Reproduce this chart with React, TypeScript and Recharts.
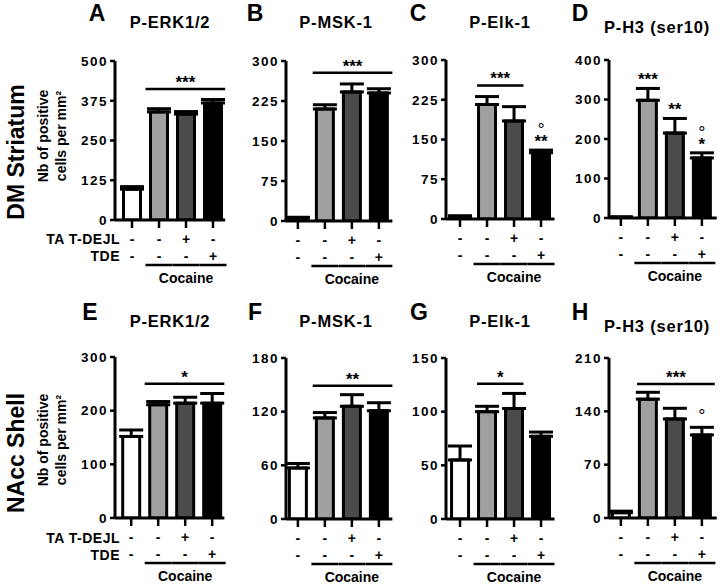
import React from 'react';
import { BarChart, Bar, XAxis, YAxis, Cell, ErrorBar, ReferenceLine, ReferenceDot } from 'recharts';

const FONT = '"Liberation Sans", Arial, sans-serif';

const groups = ['Saline', 'Cocaine', 'Cocaine + TAT-DEJL', 'Cocaine + TDE'];
const tatDejl = ['-', '-', '+', '-'];
const tde = ['-', '-', '-', '+'];
const barColors = ['#ffffff', '#a0a0a0', '#4b4b4b', '#000000'];

// DM Striatum
const erkStriatum = [97, 340, 333, 368];
const erkStriatumSem = [8, 10, 8, 11];
const mskStriatum = [5, 210, 242, 240];
const mskStriatumSem = [2, 8, 15, 8];
const elkStriatum = [5, 216, 185, 125];
const elkStriatumSem = [1, 15, 27, 5];
const h3Striatum = [2, 298, 215, 152];
const h3StriatumSem = [1, 30, 37, 13];

// NAcc Shell
const erkShell = [152, 211, 214, 214];
const erkShellSem = [12, 6, 11, 18];
const mskShell = [57, 113, 126, 121];
const mskShellSem = [5, 6, 13, 9];
const elkShell = [55, 100, 103, 77];
const elkShellSem = [13, 5, 14, 4];
const h3Shell = [7, 156, 130, 109];
const h3ShellSem = [2, 9, 14, 10];

// per-bar significance marks
const elkStriatumStars = ['', '', '', '**'];
const elkStriatumCircle = ['', '', '', '°'];
const h3StriatumStars = ['', '***', '**', '*'];
const h3StriatumCircle = ['', '', '', '°'];
const h3ShellCircle = ['', '', '', '°'];
const none = ['', '', '', ''];

const STEP = 27;
const YW = 45;
const MT = 12;
const XH = 70;

const panels = [
  { letter: 'A', title: 'P-ERK1/2', values: erkStriatum, sem: erkStriatumSem, yTicks: [0, 125, 250, 375, 500], axisX: 115, top: 61, bottom: 220, xDomain: [-0.63, 3.45], sig: { from: 0.5, to: 3.45, y: 412, text: '***' }, stars: none, circles: none, letterX: 97, titleX: 170, titleDy: 0 },
  { letter: 'B', title: 'P-MSK-1', values: mskStriatum, sem: mskStriatumSem, yTicks: [0, 75, 150, 225, 300], axisX: 286, top: 61, bottom: 221, xDomain: [-0.44, 3.5], sig: { from: 0.55, to: 3.5, y: 278, text: '***' }, stars: none, circles: none, letterX: 255, titleX: 336, titleDy: 0 },
  { letter: 'C', title: 'P-Elk-1', values: elkStriatum, sem: elkStriatumSem, yTicks: [0, 75, 150, 225, 300], axisX: 446, top: 60, bottom: 219, xDomain: [-0.52, 3.5], sig: { from: 0.63, to: 2.35, y: 252, text: '***' }, stars: elkStriatumStars, circles: elkStriatumCircle, letterX: 418, titleX: 500, titleDy: 0 },
  { letter: 'D', title: 'P-H3 (ser10)', values: h3Striatum, sem: h3StriatumSem, yTicks: [0, 100, 200, 300, 400], axisX: 609, top: 60, bottom: 218, xDomain: [-0.44, 3.55], sig: null, stars: h3StriatumStars, circles: h3StriatumCircle, letterX: 580, titleX: 657, titleDy: 5 },
  { letter: 'E', title: 'P-ERK1/2', values: erkShell, sem: erkShellSem, yTicks: [0, 100, 200, 300], axisX: 115, top: 357, bottom: 518, xDomain: [-0.6, 3.45], sig: { from: 0.5, to: 3.45, y: 250, text: '*' }, stars: none, circles: none, letterX: 90, titleX: 170, titleDy: 0 },
  { letter: 'F', title: 'P-MSK-1', values: mskShell, sem: mskShellSem, yTicks: [0, 60, 120, 180], axisX: 286, top: 358, bottom: 519, xDomain: [-0.44, 3.5], sig: { from: 0.55, to: 3.5, y: 149, text: '**' }, stars: none, circles: none, letterX: 255, titleX: 336, titleDy: 0 },
  { letter: 'G', title: 'P-Elk-1', values: elkShell, sem: elkShellSem, yTicks: [0, 50, 100, 150], axisX: 446, top: 358, bottom: 519, xDomain: [-0.52, 3.5], sig: { from: 0.63, to: 2.35, y: 126, text: '*' }, stars: none, circles: none, letterX: 419, titleX: 500, titleDy: 0 },
  { letter: 'H', title: 'P-H3 (ser10)', values: h3Shell, sem: h3ShellSem, yTicks: [0, 70, 140, 210], axisX: 609, top: 358, bottom: 518, xDomain: [-0.44, 3.55], sig: { from: 0.6, to: 3.48, y: 176, text: '***' }, stars: none, circles: h3ShellCircle, letterX: 580, titleX: 657, titleDy: 5 },
];

const TreatmentTick = (props: any) => {
  const { x, y, payload } = props;
  const i = Math.round(payload.value);
  return (
    <g fontFamily={FONT} fontWeight={700} fill="#000">
      <text x={x} y={y + 11} textAnchor="middle" dominantBaseline="central" fontSize={14}>{tatDejl[i]}</text>
      <text x={x} y={y + 28} textAnchor="middle" dominantBaseline="central" fontSize={14}>{tde[i]}</text>
      {i >= 1 && (
        <line x1={x - STEP / 2} x2={x + STEP / 2} y1={y + 37} y2={y + 37} stroke="#000" strokeWidth={2.5} />
      )}
      {i === 2 && (
        <text x={x} y={y + 50} textAnchor="middle" dominantBaseline="central" fontSize={14}>Cocaine</text>
      )}
    </g>
  );
};

const Panel = ({ p }: { p: any }) => {
  const data = p.values.map((v: number, i: number) => ({ idx: i, group: groups[i], value: v, err: [0, p.sem[i]] }));
  const plotW = (p.xDomain[1] - p.xDomain[0]) * STEP;
  const plotH = p.bottom - p.top;
  const yMax = p.yTicks[p.yTicks.length - 1];
  return (
    <div style={{ position: 'absolute', left: p.axisX - YW, top: p.top - MT }}>
      <BarChart width={YW + plotW + 4} height={MT + plotH + XH} data={data} margin={{ top: MT, right: 4, left: 0, bottom: 0 }} style={{ overflow: 'visible' }}>
        <XAxis
          dataKey="idx"
          type="number"
          domain={p.xDomain}
          ticks={[0, 1, 2, 3]}
          interval={0}
          allowDataOverflow
          height={XH}
          tickSize={8}
          tickMargin={0}
          axisLine={{ stroke: '#000', strokeWidth: 3 }}
          tickLine={{ stroke: '#000', strokeWidth: 2.5 }}
          tick={<TreatmentTick />}
        />
        <YAxis
          type="number"
          domain={[0, yMax]}
          ticks={p.yTicks}
          interval={0}
          allowDataOverflow
          width={YW}
          tickSize={5}
          tickMargin={2}
          axisLine={{ stroke: '#000', strokeWidth: 3 }}
          tickLine={{ stroke: '#000', strokeWidth: 2.5 }}
          tick={{ fill: '#000', fontSize: 13.5, fontWeight: 700, fontFamily: FONT, letterSpacing: 1.5 }}
        />
        <Bar dataKey="value" barSize={17} stroke="#000" strokeWidth={3} isAnimationActive={false}>
          {data.map((d: any, i: number) => (
            <Cell key={`c-${i}`} fill={barColors[i]} />
          ))}
          <ErrorBar dataKey="err" width={12} stroke="#000" strokeWidth={3} isAnimationActive={false} />
        </Bar>
        {p.sig && (
          <ReferenceLine
            segment={[{ x: p.sig.from, y: p.sig.y }, { x: p.sig.to, y: p.sig.y }]}
            stroke="#000"
            strokeWidth={2.5}
            ifOverflow="visible"
            label={{ value: p.sig.text, position: 'top', offset: 1, fill: '#000', fontSize: 17, fontWeight: 700, fontFamily: FONT }}
          />
        )}
        {p.stars.map((s: string, i: number) =>
          s ? (
            <ReferenceDot key={`s-${i}`} x={i} y={p.values[i] + p.sem[i]} r={1} fill="none" stroke="none" ifOverflow="visible"
              label={{ value: s, position: 'top', offset: 2, fill: '#000', fontSize: 17, fontWeight: 700, fontFamily: FONT }} />
          ) : null
        )}
        {p.circles.map((s: string, i: number) =>
          s ? (
            <ReferenceDot key={`o-${i}`} x={i} y={p.values[i] + p.sem[i]} r={1} fill="none" stroke="none" ifOverflow="visible"
              label={{ value: s, position: 'top', offset: p.stars[i] ? 13 : 4, fill: '#000', fontSize: 18, fontWeight: 400, fontFamily: FONT }} />
          ) : null
        )}
      </BarChart>
    </div>
  );
};

const RotLabel = ({ x, y, size, children }: any) => (
  <text x={x} y={y} transform={`rotate(-90 ${x} ${y})`} textAnchor="middle" dominantBaseline="central" fontSize={size} fontWeight={700} fontFamily={FONT} fill="#000">
    {children}
  </text>
);

export default function App() {
  return (
    <div style={{ position: 'absolute', left: 0, top: 0, width: 720, height: 584, background: '#fff', fontFamily: FONT }}>
      <svg width={720} height={584} style={{ position: 'absolute', left: 0, top: 0 }}>
        {panels.map((p, k) => {
          const rowY = k < 4 ? 0 : 299;
          return (
            <g key={`t-${k}`} fontFamily={FONT} fontWeight={700} fill="#000">
              <text x={p.letterX} y={rowY + 13} textAnchor="middle" dominantBaseline="central" fontSize={23}>{p.letter}</text>
              <text x={p.titleX} y={rowY + 22 + p.titleDy} textAnchor="middle" dominantBaseline="central" fontSize={16.5} letterSpacing={0.8}>{p.title}</text>
            </g>
          );
        })}
        <RotLabel x={16} y={152} size={23}>DM Striatum</RotLabel>
        <RotLabel x={16} y={453} size={23}>NAcc Shell</RotLabel>
        <RotLabel x={43} y={136} size={14}>Nb of positive</RotLabel>
        <RotLabel x={61} y={136} size={14}>cells per mm²</RotLabel>
        <RotLabel x={43} y={440} size={14}>Nb of positive</RotLabel>
        <RotLabel x={61} y={440} size={14}>cells per mm²</RotLabel>
        {[0, 299].map((dy) => (
          <g key={`r-${dy}`} fontFamily={FONT} fontWeight={700} fontSize={14} fill="#000">
            <text x={120} y={239 + dy} textAnchor="end" dominantBaseline="central" letterSpacing={0.5}>TA T-DEJL</text>
            <text x={120} y={256 + dy} textAnchor="end" dominantBaseline="central" letterSpacing={0.5}>TDE</text>
          </g>
        ))}
      </svg>
      {panels.map((p, k) => (
        <Panel key={`p-${k}`} p={p} />
      ))}
    </div>
  );
}
